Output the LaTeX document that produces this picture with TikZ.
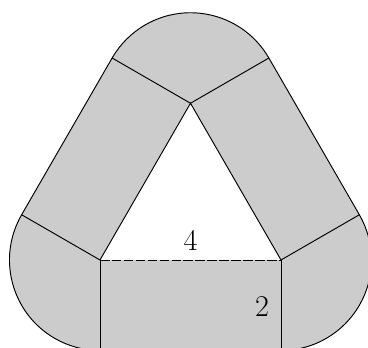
\documentclass[tikz,border=0pt]{standalone}
\tikzset{
  region/.style={fill=black!20, draw=black, line width=0.6pt},
  edge/.style={draw=black, line width=0.6pt},
  dashedge/.style={draw=black, line width=0.6pt, dash pattern=on 6pt off 1.5pt},
  lbl/.style={font=\fontsize{19}{21}\selectfont, inner sep=0pt}
}
\begin{document}
\begin{tikzpicture}
\useasboundingbox (-2.21,-1.923) rectangle (5.923,5.746);
\clip (-2.21,-1.923) rectangle (5.923,5.746);
\coordinate (A) at (0,0);
\coordinate (B) at (4,0);
\coordinate (C) at (2,3.4641);
\coordinate (Ab) at (0,-2);
\coordinate (Bb) at (4,-2);
\coordinate (Al) at (-1.7321,1);
\coordinate (Br) at (5.7321,1);
\coordinate (Cl) at (0.2679,4.4641);
\coordinate (Cr) at (3.7321,4.4641);
% outer shape
\path[region] (Ab) -- (Bb) arc[start angle=-90, end angle=30, radius=2]
  -- (Cr) arc[start angle=30, end angle=150, radius=2]
  -- (Al) arc[start angle=150, end angle=270, radius=2] -- cycle;
% inner triangle
\fill[white] (A) -- (B) -- (C) -- cycle;
\draw[edge] (A) -- (C) -- (B);
\draw[dashedge] (A) -- (B);
% dividers
\draw[edge] (A) -- (Ab);
\draw[edge] (B) -- (Bb);
\draw[edge] (A) -- (Al);
\draw[edge] (B) -- (Br);
\draw[edge] (C) -- (Cl);
\draw[edge] (C) -- (Cr);
% labels
\node[lbl] (four) at (2,0.44) {4};
\node[lbl] (two) at (3.58,-1.02) {2};
\end{tikzpicture}
\end{document}
